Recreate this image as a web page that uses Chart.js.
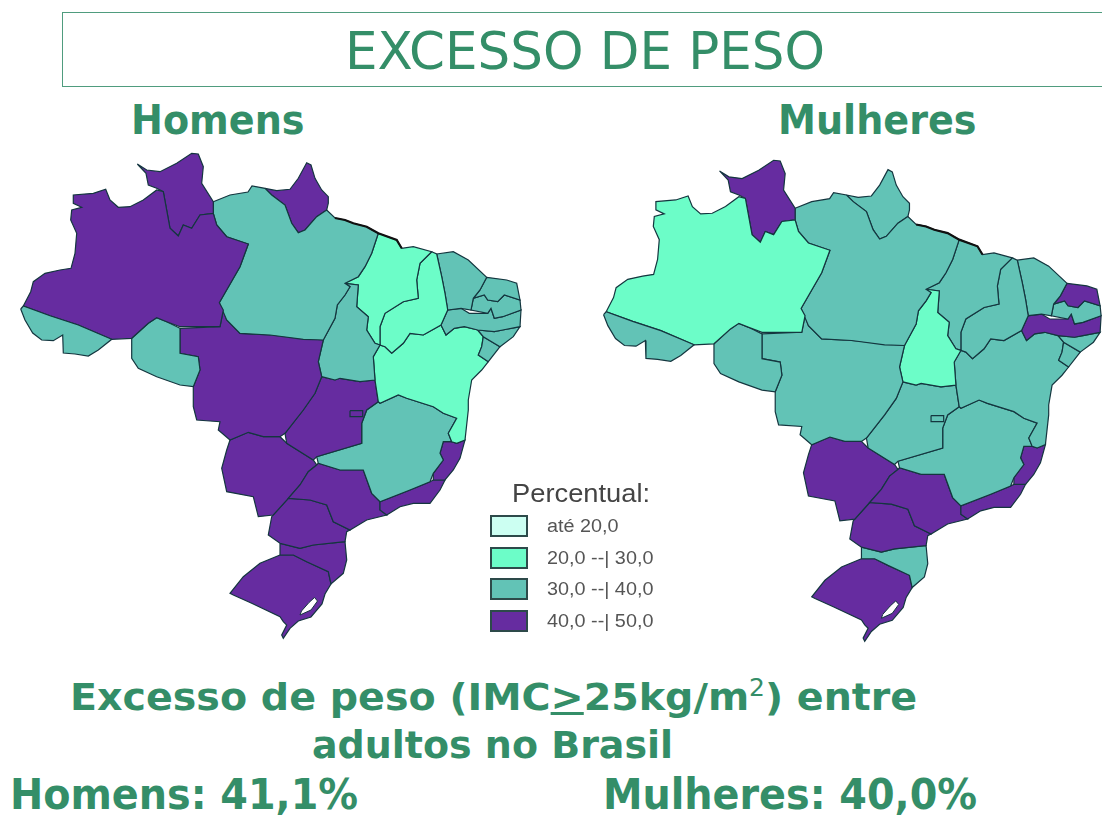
<!DOCTYPE html>
<html lang="pt-BR">
<head>
<meta charset="utf-8">
<title>Excesso de peso</title>
<script src="https://cdn.jsdelivr.net/npm/chart.js@4"></script>
<style>
  html, body { margin: 0; padding: 0; background: #fff; overflow: hidden; width: 1102px; height: 819px; }
  canvas { position: absolute; }
  .t { position: absolute; white-space: nowrap; color: #348e68; font-family: "DejaVu Sans", sans-serif; line-height: 1; transform-origin: left top; }
  .b { font-weight: bold; }
  #caixa { position: absolute; left: 62px; top: 12px; width: 1100px; height: 73px; border: 1px solid #4f9c7e; }
  sup { font-weight: normal; font-size: 24px; line-height: 0; }
  .leg { position: absolute; white-space: nowrap; font-family: "Liberation Sans", sans-serif; color: #555; font-size: 18px; line-height: 1; transform-origin: left top; transform: scaleX(1.1); }
  .sw { position: absolute; left: 490px; width: 34px; height: 18px; border: 2px solid #2d4a4a; }
</style>
</head>
<body>
<div id="caixa"></div>
<div class="t" style="left:345px;top:25px;font-size:52px;transform:scaleX(0.99);">EXCESSO DE PESO</div>
<div class="t" style="left:131px;top:100px;font-size:41px;font-weight:bold;transform:scaleX(0.93);">Homens</div>
<div class="t" style="left:778px;top:100px;font-size:41px;font-weight:bold;transform:scaleX(0.93);">Mulheres</div>
<div class="t b" style="left:70px;top:678px;font-size:38px;transform:scaleX(1.041);">Excesso de peso (IMC<u>&gt;</u>25kg/m<sup>2</sup>) entre</div>
<div class="t b" style="left:312px;top:727px;font-size:37px;transform:scaleX(1.026);">adultos no Brasil</div>
<div class="t b" style="left:10px;top:774px;font-size:42px;transform:scaleX(0.945);">Homens: 41,1%</div>
<div class="t b" style="left:603px;top:774px;font-size:42px;transform:scaleX(0.945);">Mulheres: 40,0%</div>
<canvas id="mapaHomens" width="540" height="500" style="left:0;top:150px;"></canvas>
<canvas id="mapaMulheres" width="537" height="496" style="left:583px;top:157px;"></canvas>
<div id="legenda"></div>
<script>
// faixas da legenda
const faixas = ["até 20,0", "20,0 --| 30,0", "30,0 --| 40,0", "40,0 --| 50,0"];
const coresFaixas = ["#ccfff2", "#6cfdc8", "#62c3b6", "#662ca0"];

const estados = ["AC","AM","RR","RO","PA","AP","MT","TO","MA","PI","CE","RN","PB","PE","AL","SE","BA","GO","DF","MG","ES","RJ","SP","MS","PR","SC","RS"];
const faixaHomens =   [2,3,3,2,2,3,3,2,1,1,2,2,2,2,2,2,1,3,3,2,3,3,3,3,3,3,3];
const faixaMulheres = [2,1,3,2,2,2,2,1,2,2,2,3,2,3,2,2,2,2,2,2,3,3,3,3,3,2,3];

// contornos em unidades do mapa (x para leste, y para sul)
const contornos = {
  AC: [[20.7,309],[25,320],[32.7,333],[41.7,340],[53.3,340.7],[62.7,335],[63.3,353],[75,354],[88.3,356],[98.3,350],[111.7,339.3],[78.3,325],[50,315.7],[23.3,306]],
  AM: [[23.3,306],[30.7,291.7],[33.3,281.7],[45,273.3],[60,270],[71,268.3],[75,253.3],[76.7,233.3],[70.7,220],[71.7,210],[81.7,207.3],[73.3,203.3],[73.3,195],[93.3,193.3],[105.7,189.3],[110,200],[118.3,207.3],[130,206.7],[143.3,200],[156.7,190],[163.3,191.7],[170,228.3],[178.3,236],[183.3,225],[191.7,228.3],[200,215],[213.3,213.3],[216.7,225],[226.7,236.7],[248.3,244],[240,266.7],[219.3,302.7],[223.3,310],[220,326.7],[180,326.7],[166.7,321.7],[156.7,317.7],[148.3,323.3],[131.7,338.3],[111.7,339.3],[78.3,325],[50,315.7]],
  RR: [[137.3,164],[146.7,170],[160,171.7],[176.7,163.3],[191.7,153.3],[198.3,154],[203.3,166.7],[201.7,183.3],[213.3,201.7],[213.3,213.3],[200,215],[191.7,228.3],[183.3,225],[178.3,236],[170,228.3],[163.3,191.7],[156.7,188.3],[148.3,185],[146,173.3]],
  RO: [[156.7,317.7],[166.7,321.7],[180,328.3],[180,353.3],[198.3,356.7],[200,370],[193.3,386.7],[180,385],[156.7,376.7],[138.3,368.3],[131.7,358.3],[131.7,338.3],[148.3,323.3]],
  PA: [[213.3,201.7],[230,195],[248,192],[252,186],[265,188.3],[271.7,195],[285,205],[291.7,223.3],[298.3,232.7],[305,230],[316.7,216.7],[326.7,210],[335,218],[345,220],[353.3,223.3],[366.7,226.7],[378.3,233.3],[371.7,253.3],[365,266.7],[358.3,276.7],[345,283.3],[350,286.7],[345,295],[337.3,305],[335,318.3],[323.3,340],[303.3,339.3],[270,335],[240,333.3],[226.7,320],[219.3,302.7],[240,266.7],[248.3,244],[226.7,236.7],[216.7,225],[213.3,213.3]],
  AP: [[265,188.3],[276.7,190.7],[290,189.3],[298.3,178.3],[306.7,162.7],[311,165],[315,178.3],[321.7,190],[328.3,196.7],[328.3,203.3],[326.7,210],[316.7,216.7],[305,230],[298.3,232.7],[291.7,223.3],[285,205],[271.7,195]],
  MT: [[180,328.3],[220,326.7],[223.3,310],[226.7,320],[240,333.3],[270,335],[323.3,340],[318.3,361.7],[321.7,376.7],[315,393.3],[303.3,410],[285,433.3],[280,436.7],[263.3,436.7],[248.3,432.3],[230,440],[218.3,430],[220,421.7],[196.7,420],[193.3,406.7],[193.3,386.7],[200,370],[198.3,356.7],[180,353.3]],
  TO: [[345,283.3],[358.3,285],[356.7,306.7],[368.3,316.7],[366.7,330],[375,343.3],[380,345],[373.3,356.7],[375,380],[360,381.7],[340,378.3],[335,380],[321.7,376.7],[318.3,361.7],[323.3,340],[335,318.3],[337.3,305],[345,295],[350,286.7]],
  MA: [[378.3,233.3],[396.7,240],[401.7,248.3],[413.3,246.7],[431.7,251.7],[420,263.3],[416.7,280],[418.3,298.3],[403.3,301.7],[385,313.3],[380,326.7],[380,345],[375,343.3],[366.7,330],[368.3,316.7],[356.7,306.7],[358.3,285],[345,283.3],[358.3,276.7],[365,266.7],[371.7,253.3]],
  PI: [[431.7,251.7],[436.7,254],[441.7,276.7],[445,293.3],[447.7,310],[441,325],[423.3,335],[410,333.3],[403.3,343.3],[391.7,353.3],[385,346.7],[380,345],[380,326.7],[385,313.3],[403.3,301.7],[418.3,298.3],[416.7,280],[420,263.3]],
  CE: [[436.7,254],[453.3,251.7],[468.3,260],[486.7,277.3],[480,290],[473.3,298.3],[471,310],[461,308.3],[447.7,310],[445,293.3],[441.7,276.7]],
  RN: [[486.7,277.3],[506.7,280],[516.7,283.3],[520,300],[504.3,295],[497.7,301.7],[487.7,300],[484.3,295],[473.3,298.3],[480,290]],
  PB: [[473.3,298.3],[471,310],[487.7,313.3],[491,308.3],[494.3,318.3],[502.7,316.7],[521,310],[520,300],[504.3,295],[497.7,301.7],[487.7,300],[484.3,295]],
  PE: [[447.7,310],[461,308.3],[469.3,313.3],[487.7,313.3],[491,308.3],[494.3,318.3],[502.7,316.7],[521,310],[520,326.7],[502.7,330],[494.3,331.7],[477.7,330],[464.3,326.7],[454.3,328.3],[446,335],[441,325]],
  AL: [[477.7,330],[494.3,331.7],[502.7,330],[520,326.7],[513.3,336.7],[500,346.7],[483.3,336.7]],
  SE: [[483.3,336.7],[500,346.7],[488.3,361.7],[478.3,355],[481.7,346.7]],
  BA: [[441,325],[446,335],[454.3,328.3],[464.3,326.7],[477.7,330],[483.3,336.7],[481.7,346.7],[478.3,355],[488.3,361.7],[481.7,370],[471.7,380],[468.3,400],[468.3,410],[465,440],[456.7,443.3],[451.7,441.7],[448.3,433.3],[456.7,418.3],[443.3,413.3],[433.3,406.7],[406.7,398.3],[398.3,395],[380,403.3],[378.3,401.7],[375,380],[373.3,356.7],[380,345],[385,346.7],[391.7,353.3],[403.3,343.3],[410,333.3],[423.3,335]],
  GO: [[321.7,376.7],[335,380],[340,378.3],[360,381.7],[375,380],[378.3,401.7],[366.7,410],[361.7,423.3],[361.7,443.3],[316.7,456.7],[313.3,460],[286.7,443.3],[285,433.3],[303.3,410],[315,393.3]],
  DF: [[350,410.7],[362.7,410.7],[362.7,416.7],[350,416.7]],
  MG: [[378.3,401.7],[380,403.3],[398.3,395],[406.7,398.3],[433.3,406.7],[443.3,413.3],[456.7,418.3],[448.3,433.3],[451.7,441.7],[443.3,441.7],[440,453.3],[443.3,460],[433.3,473.3],[430,481.7],[410,490],[380,501.7],[371.7,493.3],[363.3,470],[340,470],[318.3,463.3],[316.7,456.7],[361.7,443.3],[361.7,423.3],[366.7,410]],
  ES: [[451.7,441.7],[456.7,443.3],[465,440],[460,458.3],[453.3,470],[445,480],[433.3,480],[433.3,473.3],[443.3,460],[440,453.3],[443.3,441.7]],
  RJ: [[430,481.7],[433.3,480],[445,480],[440,490],[430,503.3],[413.3,503.3],[400,506.7],[386.7,515],[380,510],[380,501.7],[410,490]],
  SP: [[316.7,465],[318.3,463.3],[340,470],[363.3,470],[371.7,493.3],[380,501.7],[380,510],[386.7,515],[366.7,520],[350,530],[333.3,521.7],[326.7,505],[310,500],[288.3,498.3],[300,485],[308.3,471.7]],
  MS: [[230,440],[248.3,432.3],[263.3,436.7],[280,436.7],[286.7,443.3],[313.3,460],[316.7,465],[308.3,471.7],[300,485],[288.3,498.3],[273.3,515],[258.3,516.7],[253.3,496.7],[226.7,491.7],[221.7,468.3],[226.7,450]],
  PR: [[288.3,498.3],[310,500],[326.7,505],[333.3,521.7],[350,530],[346.7,531.7],[345,541.7],[313.3,545],[300,548.3],[280,543.3],[268.3,535],[271.7,516.7]],
  SC: [[280,543.3],[300,548.3],[313.3,545],[345,541.7],[346.7,560],[343.3,573.3],[331,584],[328.3,571.7],[306.7,561.7],[293.3,555],[280,555]],
  RS: [[280,555],[293.3,555],[306.7,561.7],[328.3,571.7],[331,584],[325,594],[322,604],[311,617],[298.3,621],[290,628.3],[283.3,638.3],[281.7,635],[286.7,625],[283.3,621.7],[280,616.7],[251.7,603.3],[233.3,595],[230,593.3],[243.3,576.7],[260,563.3]]
};
const lagoa = [[309,602.5],[314.5,597.5],[317.5,601],[311,610],[300,615],[301.5,611]];
const costaNorte = [[335,218],[345,220],[353.3,223.3],[366.7,226.7],[378.3,233.3],[396.7,240],[401.7,248.3]];

function pontos(lista) {
  const pts = lista.map(function (p) { return { x: p[0], y: p[1] }; });
  pts.push(pts[0]);
  return pts;
}

function montaDatasets(faixaPorEstado) {
  const ds = estados.map(function (uf, i) {
    return {
      label: uf,
      data: pontos(contornos[uf]),
      showLine: true,
      fill: "shape",
      backgroundColor: coresFaixas[faixaPorEstado[i]],
      borderColor: "#14363f",
      borderWidth: 1.2,
      pointRadius: 0,
      tension: 0,
    };
  });
  ds.push({ label: "Lagoa dos Patos", data: pontos(lagoa), showLine: true, fill: "shape", backgroundColor: "#fff", borderColor: "#14363f", borderWidth: 1, pointRadius: 0 });
  ds.push({ label: "costa", data: costaNorte.map(function (p) { return { x: p[0], y: p[1] }; }), showLine: true, fill: false, borderColor: "#111", borderWidth: 2.2, pointRadius: 0 });
  // Chart.js pinta o primeiro dataset por cima: DF, lagoa e costa precisam ficar no topo
  ds.forEach(function (d) { d.order = 1; });
  ds[estados.indexOf("DF")].order = 0;
  ds[ds.length - 2].order = 0;
  ds[ds.length - 1].order = 0;
  return ds;
}

function desenhaMapa(id, faixaPorEstado) {
  new Chart(document.getElementById(id).getContext("2d"), {
    type: "scatter",
    data: { datasets: montaDatasets(faixaPorEstado) },
    options: {
      responsive: false,
      animation: false,
      layout: { padding: 0 },
      plugins: { legend: { display: false }, tooltip: { enabled: false } },
      scales: {
        x: { type: "linear", display: false, min: 0, max: 540 },
        y: { type: "linear", display: false, min: 150, max: 650, reverse: true },
      },
    },
  });
}

desenhaMapa("mapaHomens", faixaHomens);
desenhaMapa("mapaMulheres", faixaMulheres);

// legenda
const legenda = document.getElementById("legenda");
let html = '<div class="leg" style="left:512px;top:480px;font-size:26px;color:#444;transform:scaleX(1.05);">Percentual:</div>';
faixas.forEach(function (txt, i) {
  const topo = 515 + i * 31.6;
  html += '<div class="sw" style="top:' + topo + 'px;background:' + coresFaixas[i] + ';"></div>';
  html += '<div class="leg" style="left:547px;top:' + (topo + 2) + 'px;">' + txt + "</div>";
});
legenda.innerHTML = html;
</script>
</body>
</html>
